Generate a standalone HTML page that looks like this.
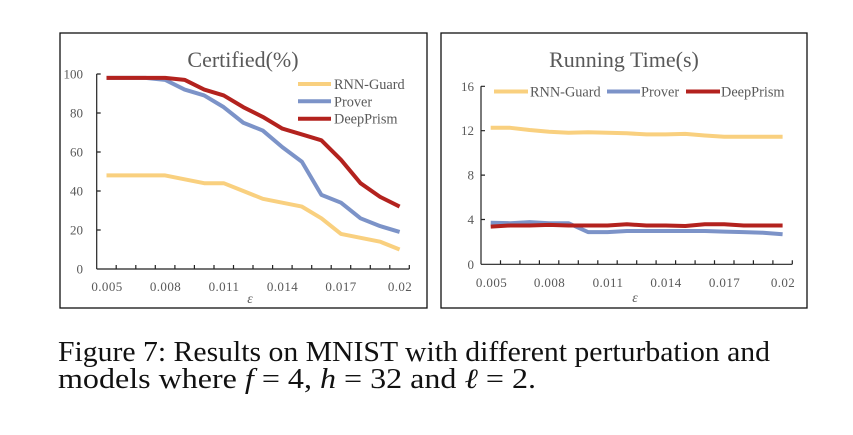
<!DOCTYPE html>
<html><head><meta charset="utf-8"><style>
html,body{margin:0;padding:0;background:#fff;}
svg{display:block;}
.t{font-family:"Liberation Serif",serif;fill:#595959;}
</style></head><body>
<svg width="853" height="435" viewBox="0 0 853 435" xmlns="http://www.w3.org/2000/svg">
<rect width="853" height="435" fill="#fff"/>
<!-- LEFT CHART -->
<rect x="60" y="33" width="367" height="275" fill="none" stroke="#111" stroke-width="1.3"/>
<text class="t" x="243" y="67" font-size="22" text-anchor="middle">Certified(%)</text>
<g stroke="#222" stroke-width="1.2" fill="none">
<line x1="96.7" y1="74" x2="96.7" y2="269"/>
<line x1="96.7" y1="269" x2="409.3" y2="269"/>
<path d="M96.7 74h4M96.7 113h4M96.7 152h4M96.7 191h4M96.7 230h4"/>
<path d="M116.2 269v-4M135.8 269v-4M155.3 269v-4M174.9 269v-4M194.4 269v-4M214.0 269v-4M233.5 269v-4M253.0 269v-4M272.6 269v-4M292.1 269v-4M311.7 269v-4M331.2 269v-4M350.7 269v-4M370.3 269v-4M389.8 269v-4M409.3 269v-4"/>
</g>
<g class="t" font-size="13" text-anchor="end">
<text x="83" y="78.5">100</text><text x="83" y="117.5">80</text><text x="83" y="156.5">60</text><text x="83" y="195.5">40</text><text x="83" y="234.5">20</text><text x="83" y="273.5">0</text>
</g>
<g class="t" font-size="13" text-anchor="middle" letter-spacing="0.4">
<text x="107" y="291">0.005</text><text x="165.5" y="291">0.008</text><text x="224" y="291">0.011</text><text x="282.5" y="291">0.014</text><text x="341" y="291">0.017</text><text x="400" y="291">0.02</text>
</g>
<text class="t" x="250" y="303" font-size="14" font-style="italic" text-anchor="middle">ε</text>
<g fill="none" stroke-width="4" stroke-linejoin="round" stroke-linecap="butt">
<polyline stroke="#F9D07F" points="106.5,175.4 126,175.4 145.5,175.4 165.1,175.4 184.6,179.3 204.2,183.2 223.7,183.2 243.3,191 262.8,198.8 282.3,202.7 301.9,206.6 321.4,218.3 341,233.9 360.5,237.8 380.1,241.7 399.6,249.5"/>
<polyline stroke="#7C93C8" points="106.5,77.9 126,77.9 145.5,77.9 165.1,79.85 184.6,89.6 204.2,95.45 223.7,107.15 243.3,122.75 262.8,130.55 282.3,147.1 301.9,161.75 321.4,194.9 341,202.7 360.5,218.3 380.1,226.1 399.6,231.95"/>
<polyline stroke="#B3221E" points="106.5,77.9 126,77.9 145.5,77.9 165.1,77.9 184.6,79.85 204.2,89.6 223.7,95.45 243.3,107.15 262.8,116.9 282.3,128.6 301.9,134.45 321.4,140.3 341,159.8 360.5,183.2 380.1,196.85 399.6,206.6"/>
</g>
<g stroke-width="4">
<line x1="298" y1="84" x2="331" y2="84" stroke="#F9D07F"/>
<line x1="298" y1="101.3" x2="331" y2="101.3" stroke="#7C93C8"/>
<line x1="298" y1="118.7" x2="331" y2="118.7" stroke="#B3221E"/>
</g>
<g class="t" font-size="14.3">
<text x="334" y="89">RNN-Guard</text><text x="334" y="106.3">Prover</text><text x="334" y="123.7">DeepPrism</text>
</g>

<!-- RIGHT CHART -->
<rect x="441" y="33" width="366" height="275" fill="none" stroke="#111" stroke-width="1.3"/>
<text class="t" x="624" y="67" font-size="22" text-anchor="middle">Running Time(s)</text>
<g stroke="#222" stroke-width="1.2" fill="none">
<line x1="481" y1="86.3" x2="481" y2="264.3"/>
<line x1="481" y1="264.3" x2="792.3" y2="264.3"/>
<path d="M481 86.3h4M481 130.7h4M481 175.1h4M481 219.5h4"/>
<path d="M500.5 264.3v-4M519.9 264.3v-4M539.4 264.3v-4M558.8 264.3v-4M578.3 264.3v-4M597.8 264.3v-4M617.2 264.3v-4M636.7 264.3v-4M656.1 264.3v-4M675.6 264.3v-4M695.1 264.3v-4M714.5 264.3v-4M734.0 264.3v-4M753.4 264.3v-4M772.9 264.3v-4M792.3 264.3v-4"/>
</g>
<g class="t" font-size="13" text-anchor="end">
<text x="474" y="90.8">16</text><text x="474" y="135.2">12</text><text x="474" y="179.6">8</text><text x="474" y="224">4</text><text x="474" y="268.8">0</text>
</g>
<g class="t" font-size="13" text-anchor="middle" letter-spacing="0.4">
<text x="491.5" y="287">0.005</text><text x="549.5" y="287">0.008</text><text x="608" y="287">0.011</text><text x="666" y="287">0.014</text><text x="724.5" y="287">0.017</text><text x="783" y="287">0.02</text>
</g>
<text class="t" x="635" y="302" font-size="14" font-style="italic" text-anchor="middle">ε</text>
<g fill="none" stroke-width="4" stroke-linejoin="round">
<polyline stroke="#F9D07F" points="490.7,127.8 510.2,127.8 529.6,130 549.1,131.7 568.5,132.8 588,132.2 607.5,132.8 626.9,133.3 646.4,134.4 665.8,134.4 685.3,133.9 704.8,135.5 724.2,136.7 743.7,136.7 763.1,136.7 782.6,136.7"/>
<polyline stroke="#7C93C8" points="490.7,222.7 510.2,223.2 529.6,222.1 549.1,223.2 568.5,223.2 588,232.1 607.5,232.1 626.9,231 646.4,231 665.8,231 685.3,231 704.8,231 724.2,231.6 743.7,232.1 763.1,232.7 782.6,234.3"/>
<polyline stroke="#B3221E" points="490.7,226.6 510.2,225.45 529.6,225.45 549.1,224.9 568.5,225.45 588,225.45 607.5,225.45 626.9,224.3 646.4,225.45 665.8,225.45 685.3,226 704.8,224.3 724.2,224.3 743.7,225.45 763.1,225.45 782.6,225.45"/>
</g>
<g stroke-width="4">
<line x1="494" y1="91.5" x2="528" y2="91.5" stroke="#F9D07F"/>
<line x1="607" y1="91.5" x2="640" y2="91.5" stroke="#7C93C8"/>
<line x1="686" y1="91.5" x2="720" y2="91.5" stroke="#B3221E"/>
</g>
<g class="t" font-size="14.3">
<text x="530" y="96.5">RNN-Guard</text><text x="641" y="96.5">Prover</text><text x="721" y="96.5">DeepPrism</text>
</g>

<!-- CAPTION -->
<text x="58" y="361" font-family="'Liberation Serif',serif" font-size="28" fill="#111" textLength="712" lengthAdjust="spacingAndGlyphs">Figure 7: Results on MNIST with different perturbation and</text>
<text x="58" y="388" font-family="'Liberation Serif','DejaVu Serif',serif" font-size="28" fill="#111" textLength="478" lengthAdjust="spacingAndGlyphs">models where <tspan font-style="italic">f</tspan> = 4, <tspan font-style="italic">h</tspan> = 32 and <tspan font-style="italic">ℓ</tspan> = 2.</text>
</svg>
</body></html>
